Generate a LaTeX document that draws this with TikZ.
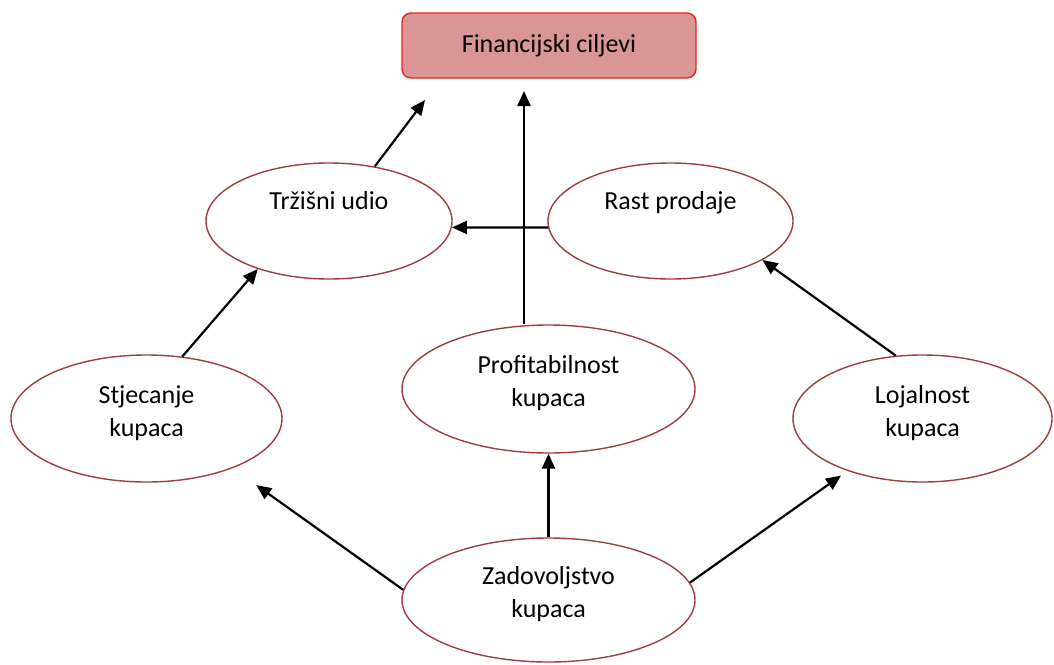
\documentclass[tikz,border=0pt]{standalone}
\usepackage{fontspec}
\setmainfont{Carlito}
\usetikzlibrary{shapes.geometric,arrows.meta}
\definecolor{ovalred}{RGB}{158,62,60}
\definecolor{goalfill}{RGB}{217,150,148}
\definecolor{goalred}{RGB}{236,32,32}

\begin{document}
\begin{tikzpicture}[x=1pt,y=-1pt,
    oval/.style={ellipse, draw=ovalred, line width=1.4pt, inner sep=0pt, align=center,
        font=\fontsize{26}{33}\selectfont},
    oneline/.style={oval, text height=18pt, text depth=42pt},
    twoline/.style={oval, text height=51pt, text depth=16pt},
    goal/.style={rectangle, rounded corners=9pt, draw=goalred, fill=goalfill, line width=1.4pt,
        minimum width=294pt, minimum height=65pt, font=\fontsize{26}{30}\selectfont},
    arr/.style={-{Triangle[length=15pt,width=13pt]}, line width=2.2pt}]
    \useasboundingbox (0,0) rectangle (1054,664);
    % Goal box
    \node[goal] (fin) at (549,45.5) {Financijski ciljevi};
    % Upper ellipses
    \node[oneline, minimum width=246pt, minimum height=116pt] (trz) at (329,221) {Tržišni udio};
    \node[oneline, minimum width=245pt, minimum height=116pt] (rast) at (670.5,221) {Rast prodaje};
    % Middle ellipses
    \node[twoline, minimum width=271pt, minimum height=127pt] (stj) at (146.5,418.5) {Stjecanje\\kupaca};
    \node[twoline, minimum width=293pt, minimum height=128pt] (prof) at (548.5,389) {Profitabilnost\\kupaca};
    \node[twoline, minimum width=259pt, minimum height=127pt] (loj) at (922.5,418.5) {Lojalnost\\kupaca};
    % Bottom ellipse
    \node[twoline, minimum width=293pt, minimum height=124pt] (zad) at (548.5,600) {Zadovoljstvo\\kupaca};
    % Free ends below the goal box
    \coordinate (finL) at (425,100);
    \coordinate (finM) at (524,91);
    % Arrows
    \draw[arr] (trz.50) -- (finL);
    \draw[arr] (prof.north -| finM) -- (finM);
    \draw[arr] (rast.183) -- (trz.-3);
    \draw[arr] (stj.60) -- (trz.214);
    \draw[arr] (loj.113) -- (rast.-23);
    \draw[arr, shorten >=29pt] (zad.176) -- (stj.-30);
    \draw[arr] (zad.north) -- (prof.south);
    \draw[arr, shorten >=8pt] (zad.7) -- (loj.215);
\end{tikzpicture}
\end{document}
